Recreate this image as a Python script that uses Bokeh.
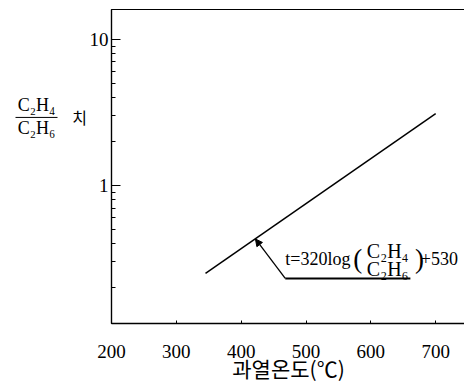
from bokeh.plotting import figure
from bokeh.layouts import row
from bokeh.models import (Range1d, FixedTicker, Label, Arrow, NormalHead, ColumnDataSource,
                          PrintfTickFormatter)
from bokeh.embed import file_html
from bokeh.resources import INLINE

# data
temp = [345, 700]                 # 과열온도 (°C)
ratio = [0.25, 3.1]               # C2H4/C2H6 ratio
x_ticks = [200, 300, 400, 500, 600, 700]
y_major = [1, 10]
y_minor = [0.2, 0.3, 0.4, 0.5, 0.6, 0.7, 0.8, 0.9, 2, 3, 4, 5, 6, 7, 8, 9]
x_label = "과열온도(℃)"
y_num, y_den, y_word = "C₂H₄", "C₂H₆", "치"

SERIF = "Liberation Serif"
KR = "Noto Sans CJK KR"
Y0, Y1 = 0.1135, 16

def lab(fig, x, y, text, size, align="left", font=SERIF):
    fig.add_layout(Label(x=x, y=y, text=text,
                         text_font=font, text_font_size=size,
                         text_align=align, text_baseline="middle", text_color="black"))

# ---- left strip holding the y-axis title (same vertical frame as the plot) ----
lf = figure(frame_width=86, frame_height=314, y_axis_type="log",
            x_range=Range1d(0, 86), y_range=Range1d(Y0, Y1),
            x_axis_location=None, y_axis_location=None,
            output_backend="svg", toolbar_location=None, align="start",
            min_border_left=0, min_border_right=0, min_border_top=9, min_border_bottom=0)
lf.grid.visible = False
lf.outline_line_color = None
lf.background_fill_color = "white"
lf.border_fill_color = "white"

lab(lf, 36, 3.53, y_num, "18px", align="center")
lab(lf, 36, 2.46, y_den, "18px", align="center")
lf.add_layout(Arrow(end=None, x_start=15, y_start=2.92, x_end=57, y_end=2.92,
                    line_color="black", line_width=1))
lab(lf, 79, 2.92, y_word, "16px", align="center", font=KR)

# ---- main plot ----
p = figure(frame_width=354, frame_height=314, y_axis_type="log",
           x_range=Range1d(200, 746), y_range=Range1d(Y0, Y1),
           output_backend="svg", toolbar_location=None, align="start",
           min_border_left=23, min_border_right=1, min_border_top=9, min_border_bottom=0)

p.background_fill_color = "white"
p.border_fill_color = "white"
p.outline_line_color = "black"
p.outline_line_width = 1.2
p.grid.visible = False

# x axis
xa = p.xaxis[0]
xa.ticker = FixedTicker(ticks=x_ticks)
xa.major_tick_in = 3
xa.major_tick_out = 0
xa.minor_tick_in = 0
xa.minor_tick_out = 0
xa.axis_line_width = 1.5
xa.major_label_text_font = SERIF
xa.major_label_text_font_size = "19px"
xa.major_label_text_color = "black"
xa.major_label_standoff = 21
xa.axis_label = x_label
xa.axis_label_text_font = KR
xa.axis_label_text_font_size = "21px"
xa.axis_label_text_font_style = "normal"
xa.axis_label_text_color = "black"
xa.axis_label_standoff = -8

# y axis
ya = p.yaxis[0]
ya.ticker = FixedTicker(ticks=y_major, minor_ticks=y_minor)
ya.formatter = PrintfTickFormatter(format="%d")
ya.major_tick_in = 9
ya.major_tick_out = 0
ya.minor_tick_in = 4
ya.minor_tick_out = 0
ya.axis_line_width = 1.2
ya.major_label_text_font = SERIF
ya.major_label_text_font_size = "19px"
ya.major_label_text_color = "black"
ya.major_label_standoff = 3

# main line
src = ColumnDataSource(dict(t=temp, r=ratio))
p.line("t", "r", source=src, line_color="black", line_width=1.5)

# annotation arrow and underline
p.add_layout(Arrow(end=NormalHead(size=7, fill_color="black", line_color="black"),
                   x_start=468, y_start=0.231, x_end=422, y_end=0.43,
                   line_color="black", line_width=1.3))
p.add_layout(Arrow(end=None, x_start=468, y_start=0.231, x_end=661, y_end=0.231,
                   line_color="black", line_width=2))

# formula
lab(p, 468, 0.316, "t=320log", "18px")
lab(p, 573, 0.316, "(", "27px")
lab(p, 626, 0.355, y_num, "20px", align="center")
lab(p, 626, 0.268, y_den, "20px", align="center")
lab(p, 668, 0.316, ")", "27px")
lab(p, 677, 0.316, "+530", "18px")

layout = row(lf, p, spacing=0)
open("out.html", "w").write(file_html(layout, INLINE))
